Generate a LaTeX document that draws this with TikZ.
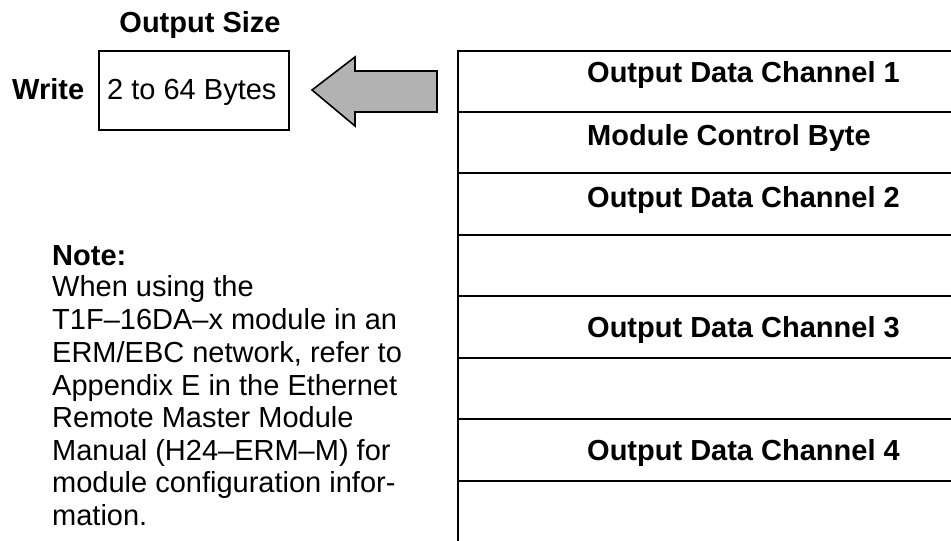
\documentclass[tikz,border=0pt]{standalone}
\usepackage{fontspec}
\setmainfont{Liberation Sans}
\begin{document}
\begin{tikzpicture}[x=1pt,y=-1pt,
  txt/.style={inner sep=0pt,anchor=base west,font=\fontsize{29}{32.5}\selectfont},
  btxt/.style={txt,font=\fontsize{29}{32.5}\selectfont\bfseries},
  frame/.style={line width=2pt,draw=black},
  bigarrow/.style={line width=1.6pt,draw=black,fill=black!30,line join=miter}]
\useasboundingbox (0,0) rectangle (951,541);
% title and box
\node[btxt,anchor=base] (title) at (200,32) {Output Size};
\node[btxt] (write) at (12,99) {Write};
\node[frame,minimum width=190pt,minimum height=79pt,inner sep=0pt] (box) at (194,90.5) {};
\node[txt] (bytes) at (107,99) {2 to 64 Bytes};
% arrow
\coordinate (atip) at (312,90);
\draw[bigarrow] (atip) -- (355,57) -- (355,71) -- (437,71) -- (437,112) -- (355,112) -- (355,126) -- cycle;
% table
\coordinate (tl) at (458,51);
\coordinate (bl) at (458,542);
\draw[frame] (952,51) -- (tl) -- (bl);
\foreach \y in {112,173,235,296,358,419,481} {
  \draw[frame] (458,\y) -- (952,\y);
}
\node[btxt] (r1) at (587,82) {Output Data Channel 1};
\node[btxt] (r2) at (587,145) {Module Control Byte};
\node[btxt] (r3) at (587,207) {Output Data Channel 2};
\node[btxt] (r5) at (587,337) {Output Data Channel 3};
\node[btxt] (r7) at (587,460) {Output Data Channel 4};
% note
\node[btxt] (n0) at (52,265) {Note:};
\node[txt] (n1) at (52,296) {When using the};
\node[txt] (n2) at (52,329.5) {T1F–16DA–x module in an};
\node[txt] (n3) at (52,362) {ERM/EBC network, refer to};
\node[txt] (n4) at (52,395) {Appendix E in the Ethernet};
\node[txt] (n5) at (52,427.5) {Remote Master Module};
\node[txt] (n6) at (52,460) {Manual (H24–ERM–M) for};
\node[txt] (n7) at (52,492.5) {module configuration infor-};
\node[txt] (n8) at (52,525) {mation.};
\end{tikzpicture}
\end{document}
